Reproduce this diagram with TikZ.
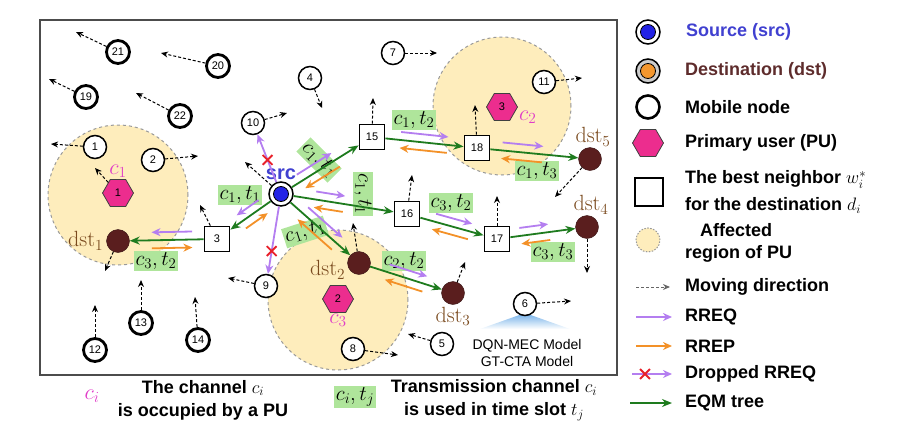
\RequirePackage{fix-cm}
\documentclass[tikz,border=0pt]{standalone}
\usepackage{amsmath,amssymb}
\usepackage{fontspec}
\newfontfamily\arial{Liberation Sans}
\usetikzlibrary{calc}
\usetikzlibrary{arrows.meta,shapes.geometric,shapes.misc}
\usetikzlibrary{positioning}
\definecolor{eqm}{HTML}{1E7B1E}
\definecolor{rreq}{HTML}{B47EF0}
\definecolor{rrep}{HTML}{F39128}
\definecolor{puzone}{HTML}{FEEDBC}
\definecolor{pufill}{HTML}{EC2D8E}
\definecolor{dstcol}{HTML}{5A1E1E}
\definecolor{dsttxt}{HTML}{7A4A1E}
\definecolor{dstleg}{HTML}{5E2C2C}
\definecolor{dstorange}{HTML}{F4972E}
\definecolor{srcblue}{HTML}{2323E6}
\definecolor{srctxt}{HTML}{4040D0}
\definecolor{chgreen}{HTML}{AFE59B}
\definecolor{cmag}{HTML}{E03CC8}
\definecolor{dropred}{HTML}{E8202A}
\definecolor{fanblue}{HTML}{6FAEE8}
\newcommand{\ct}[2]{$c_{#1},t_{#2}$}
\newcommand{\dst}[1]{$\mathrm{dst}_{#1}$}
\newcommand{\rrpair}[5]{%
  \draw[req] ($(#1)!#4!(#2)!8pt!#3:(#2)$) -- ($(#1)!#5!(#2)!8pt!#3:(#2)$);
  \draw[rep] ($(#1)!#5!(#2)!-8pt!#3:(#2)$) -- ($(#1)!#4!(#2)!-8pt!#3:(#2)$);}
\tikzset{
  mob/.style={circle,draw,line width=1.5pt,fill=white,minimum size=23pt,inner sep=0pt,font=\arial\fontsize{11}{12}\selectfont},
  mobb/.style={mob,line width=2.8pt},
  nbr/.style={rectangle,draw,line width=1.8pt,fill=white,minimum size=25pt,inner sep=0pt,font=\arial\fontsize{11}{12}\selectfont},
  dstn/.style={circle,draw=dstcol!60!black,fill=dstcol,minimum size=23pt,inner sep=0pt},
  srcring/.style={circle,draw,line width=1.5pt,fill=white,minimum size=24pt,inner sep=0pt},
  srcdot/.style={circle,draw,line width=0.8pt,minimum size=15pt,inner sep=0pt},
  pu/.style={regular polygon,regular polygon sides=6,draw=black!75,line width=0.8pt,fill=pufill,minimum size=31pt,inner sep=0pt,font=\arial\fontsize{11}{12}\selectfont},
  zone/.style={draw=black!40,dashed,line width=1pt,fill=puzone},
  eqmtree/.style={draw=eqm,line width=1.8pt,-{Stealth[length=10pt,width=8pt]}},
  req/.style={draw=rreq,line width=1.8pt,-{Stealth[length=9pt,width=8pt]}},
  rep/.style={draw=rrep,line width=1.8pt,-{Stealth[length=9pt,width=8pt]}},
  mv/.style={dash pattern=on 3pt off 2pt,line width=1pt,-{Stealth[length=7pt,width=6pt]}},
  xmark/.style={cross out,draw=dropred,line width=1.8pt,minimum size=8pt,inner sep=0pt},
  ch/.style={fill=chgreen,inner sep=1.5pt,font=\fontsize{21}{22}\selectfont},
  lbl/.style={inner sep=1pt,font=\fontsize{22}{24}\selectfont},
  leg/.style={anchor=west,align=left,inner sep=0pt,font=\arial\bfseries\fontsize{18}{22}\selectfont},
}
\begin{document}
\begin{tikzpicture}[x=1pt,y=-1pt]
  \useasboundingbox (0,0) rectangle (903,426);
  \draw[black!70,line width=1.2pt] (40,20) rectangle (617,375);
  \draw[zone] (118,195) circle (70pt);
  \draw[zone] (338,300) circle (70pt);
  \draw[zone] (502,106) circle (69pt);
  \shade[top color=fanblue,bottom color=white] (525,313) -- (570,329) -- (480,329) -- cycle;
  \node[font=\arial\fontsize{14}{17}\selectfont,align=center] (model) at (527,353) {DQN-MEC Model\\GT-CTA Model};

  \node[ch] (ct1) at (240,195) {\ct11};
  \node[ch,rotate=-45] (ct2) at (319,160) {\ct11};
  \node[ch,rotate=-90] (ct3) at (363,194) {\ct11};
  \node[ch,rotate=18] (ct4) at (305,232) {\ct11};
  \node[ch] (ct5) at (414,120) {\ct12};
  \node[ch] (ct6) at (537,171) {\ct13};
  \node[ch] (ct7) at (451,203) {\ct32};
  \node[ch] (ct8) at (553,252) {\ct33};
  \node[ch] (ct9) at (156,261) {\ct32};
  \node[ch] (ct10) at (404,261) {\ct22};

  \foreach \n/\x/\y in {21/118/52,20/218/66,19/86/97,22/180/116,13/141/323,12/95/350,14/198/340}
    \node[mobb] (n\n) at (\x,\y) {\n};
  \foreach \n/\x/\y in {4/310/78,10/253/123,1/95/147,2/153/160,7/393/53,11/544/82,9/266/286,8/353/349,5/442/344,6/525/304}
    \node[mob] (n\n) at (\x,\y) {\n};
  \foreach \n/\x/\y in {3/217/239,15/372/137,16/407/214,17/497/239,18/477/148}
    \node[nbr] (w\n) at (\x,\y) {\n};
  \foreach \n/\x/\y in {1/118/241,2/359/263,3/453/293,4/587/227,5/590/159}
    \node[dstn] (d\n) at (\x,\y) {};
  \foreach \n/\x/\y in {1/118/193,2/338/299,3/502/107}
    \node[pu] (pu\n) at (\x,\y) {\n};
  \node[srcring] (src) at (281,194) {};
  \node[srcdot,fill=srcblue] (srcin) at (src) {};

  \node[font=\arial\bfseries\fontsize{20}{22}\selectfont,text=srctxt,above=0pt of src,inner sep=1pt] (lsrc) {src};
  \node[lbl,text=dsttxt,left=2pt of d1] (ld1) {\dst1};
  \node[lbl,text=dsttxt,left=1pt of d2,yshift=-7pt] (ld2) {\dst2};
  \node[lbl,text=dsttxt,below=1pt of d3] (ld3) {\dst3};
  \node[lbl,text=dsttxt,above=0pt of d4,xshift=4pt] (ld4) {\dst4};
  \node[lbl,text=dsttxt,above=0pt of d5,xshift=3pt] (ld5) {\dst5};
  \node[lbl,text=cmag,above=0pt of pu1] (lc1) {$c_1$};
  \node[lbl,text=cmag,right=0pt of pu3,yshift=-10pt] (lc2) {$c_2$};
  \node[lbl,text=cmag,below=0pt of pu2] (lc3) {$c_3$};

  \foreach \a/\x/\y in {n21/76/32,n20/161/53,n19/49/79,n22/136/93,n4/322/108,n10/287/113,n1/51/144,n2/198/156,n7/437/53,n11/582/78,n9/228/278,n13/141/280,n12/95/305,n14/195/297,n8/398/355,n5/408/334,n6/571/301,src/245/162,w3/200/205,w15/373/98,w16/412/175,w17/497/196,w18/475/105,d1/105/271,d2/353/223,d3/465/262,d4/587/273,d5/555/197,pu1/95/168}
    {\coordinate (\a-to) at (\x,\y); \draw[mv] (\a) -- (\a-to);}

  \foreach \a/\b in {src/w3,w3/d1,src/w15,w15/w18,w18/d5,src/w16,w16/w17,w17/d4,src/d2,d2/d3}
    \draw[eqmtree] (\a) -- (\b);
  \rrpair{src}{w3}{-90}{0.28}{0.62}
  \rrpair{w3}{d1}{-90}{0.25}{0.66}
  \rrpair{src}{w15}{90}{0.22}{0.6}
  \rrpair{src}{w16}{90}{0.27}{0.5}
  \rrpair{src}{d2}{90}{0.28}{0.72}
  \rrpair{w15}{w18}{90}{0.27}{0.72}
  \rrpair{w18}{d5}{90}{0.22}{0.58}
  \rrpair{w16}{w17}{90}{0.3}{0.7}
  \rrpair{w17}{d4}{90}{0.26}{0.58}
  \rrpair{d2}{d3}{90}{0.3}{0.7}
  \draw[req] (src) -- (n10);
  \draw[req] (src) -- (n9);
  \node[xmark] (x1) at ($(src)!0.48!(n10)$) {};
  \node[xmark] (x2) at ($(src)!0.62!(n9)$) {};

  \node[srcring] (ksrc) at (648,32) {};
  \node[srcdot,fill=srcblue] (ksrcin) at (ksrc) {};
  \node[srcring,fill=black!20] (kdst) at (648,71) {};
  \node[srcdot,fill=dstorange] (kdstin) at (kdst) {};
  \node[mob,line width=2.6pt] (kmob) at (648,107) {};
  \node[pu] (kpu) at (648,143) {};
  \node[nbr,line width=1.2pt,minimum size=28pt] (knbr) at (649,192) {};
  \node[zone,circle,dash pattern=on 1.5pt off 1.5pt,minimum size=24pt] (kzone) at (648,240) {};
  \coordinate (kmv-a) at (636,287); \coordinate (kmv-b) at (670,287);
  \coordinate (kq-a) at (636,317);  \coordinate (kq-b) at (672,317);
  \coordinate (kp-a) at (636,346);  \coordinate (kp-b) at (672,346);
  \coordinate (kd-a) at (632,374);  \coordinate (kd-b) at (672,374);
  \coordinate (ke-a) at (630,403);  \coordinate (ke-b) at (672,403);
  \draw[mv,draw=black!60] (kmv-a) -- (kmv-b);
  \draw[req] (kq-a) -- (kq-b);
  \draw[rep] (kp-a) -- (kp-b);
  \draw[req] (kd-a) -- (kd-b);
  \node[xmark] (kx) at (645,374) {};
  \draw[eqmtree] (ke-a) -- (ke-b);

  \node[leg,text=srctxt] (tsrc) at (686,32) {Source (src)};
  \node[leg,text=dstleg] (tdst) at (685,71) {Destination (dst)};
  \node[leg] (tmob) at (685,107) {Mobile node};
  \node[leg] (tpu) at (685,143) {Primary user (PU)};
  \node[leg,font=\arial\bfseries\fontsize{18}{27}\selectfont] (tnbr) at (685,192) {The best neighbor $w_i^*$\\for the destination $d_i$};
  \node[leg] (tzone) at (685,243) {\hspace{15pt}Affected\\region of PU};
  \node[leg] (tmv) at (685,287) {Moving direction};
  \node[leg] (tq) at (685,317) {RREQ};
  \node[leg] (tp) at (685,346) {RREP};
  \node[leg] (td) at (685,374) {Dropped RREQ};
  \node[leg] (te) at (685,403) {EQM tree};

  \node[lbl,text=cmag] (bci) at (92,396) {$c_i$};
  \node[font=\arial\bfseries\fontsize{18}{23}\selectfont,align=center] (bocc) at (203,400) {The channel $c_i$\\is occupied by a PU};
  \node[ch] (bct) at (355,397) {$c_i,t_j$};
  \node[font=\arial\bfseries\fontsize{18}{23}\selectfont,align=center] (btx) at (494,400) {Transmission channel $c_i$\\is used in time slot $t_j$};
\end{tikzpicture}
\end{document}
